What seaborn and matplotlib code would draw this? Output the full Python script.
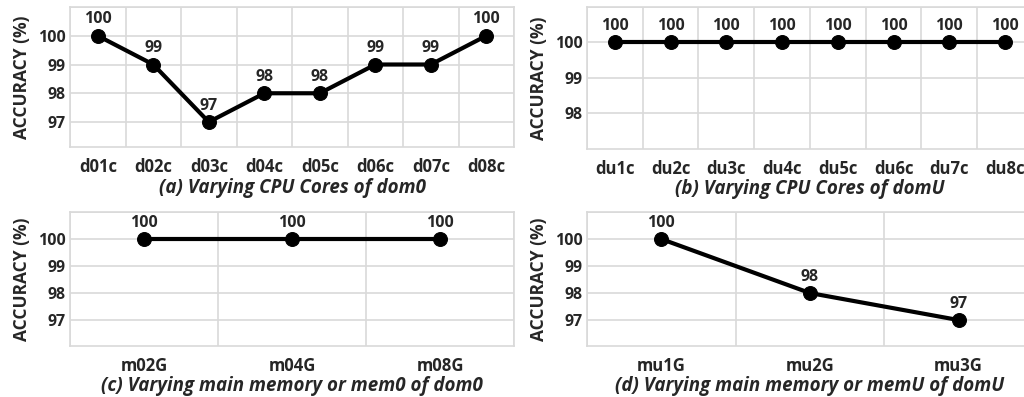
import numpy as np
import pandas as pd
import matplotlib.pyplot as plt
import seaborn as sns

sns.set_theme(style="whitegrid")
plt.rcParams['font.family'] = ['Open Sans', 'DejaVu Sans']

# chart data
cores_dom0 = ['d01c', 'd02c', 'd03c', 'd04c', 'd05c', 'd06c', 'd07c', 'd08c']
acc_dom0 = [100, 99, 97, 98, 98, 99, 99, 100]
cores_domu = ['du1c', 'du2c', 'du3c', 'du4c', 'du5c', 'du6c', 'du7c', 'du8c']
acc_domu = [100, 100, 100, 100, 100, 100, 100, 100]
mem_dom0 = ['m02G', 'm04G', 'm08G']
acc_mem0 = [100, 100, 100]
mem_domu = ['mu1G', 'mu2G', 'mu3G']
acc_memu = [100, 98, 97]

captions = ['(a) Varying CPU Cores of dom0', '(b) Varying CPU Cores of domU',
            '(c) Varying main memory or mem0 of dom0',
            '(d) Varying main memory or memU of domU']

panels = [
    (cores_dom0, acc_dom0, [0.0684, 0.6297, 0.4336, 0.3526], (96.13, 101), [97, 98, 99, 100]),
    (cores_domu, acc_domu, [0.5732, 0.6247, 0.4355, 0.3577], (97.0, 101), [98, 99, 100]),
    (mem_dom0, acc_mem0, [0.0684, 0.1285, 0.4336, 0.3375], (96.04, 101), [97, 98, 99, 100]),
    (mem_domu, acc_memu, [0.5732, 0.1285, 0.4355, 0.3375], (96.04, 101), [97, 98, 99, 100]),
]

grid_col = '#d9d9d9'
fig = plt.figure(figsize=(10.24, 3.97), dpi=100)

for (cats, vals, pos, ylim, yt), cap in zip(panels, captions):
    ax = fig.add_axes(pos)
    df = pd.DataFrame({'x': np.arange(len(cats)), 'acc': vals})
    sns.lineplot(data=df, x='x', y='acc', ax=ax, color='black', linewidth=3,
                 marker='o', markersize=10, markeredgecolor='black', sort=False)
    for i, v in enumerate(vals):
        ax.annotate(str(v), (i, v), xytext=(0, 6), textcoords='offset points',
                    ha='center', va='bottom', fontsize=11.5, fontweight='bold')
    n = len(cats)
    ax.set_xlim(-0.5, n - 0.5)
    ax.set_ylim(*ylim)
    ax.set_xticks(range(n))
    ax.set_xticklabels(cats, fontsize=12, fontweight='bold')
    ax.set_xticks(np.arange(-0.5, n), minor=True)
    ax.set_yticks(yt + [101])
    ax.set_yticklabels([str(t) for t in yt] + [''], fontsize=11.5, fontweight='bold')
    ax.grid(False)
    ax.grid(True, axis='y', which='major', color=grid_col, linewidth=1.2)
    ax.grid(True, axis='x', which='minor', color=grid_col, linewidth=1.2)
    ax.tick_params(axis='x', which='both', length=0, pad=8)
    ax.tick_params(axis='y', which='both', length=0, pad=3)
    for s in ax.spines.values():
        s.set_color(grid_col)
        s.set_linewidth(1.2)
    ax.set_ylabel('ACCURACY (%)', fontsize=12.5, fontweight='bold', labelpad=5)
    ax.set_xlabel(cap, fontsize=13.5, fontweight='bold', fontstyle='italic', labelpad=1)

fig.savefig('out.png', dpi=100)
